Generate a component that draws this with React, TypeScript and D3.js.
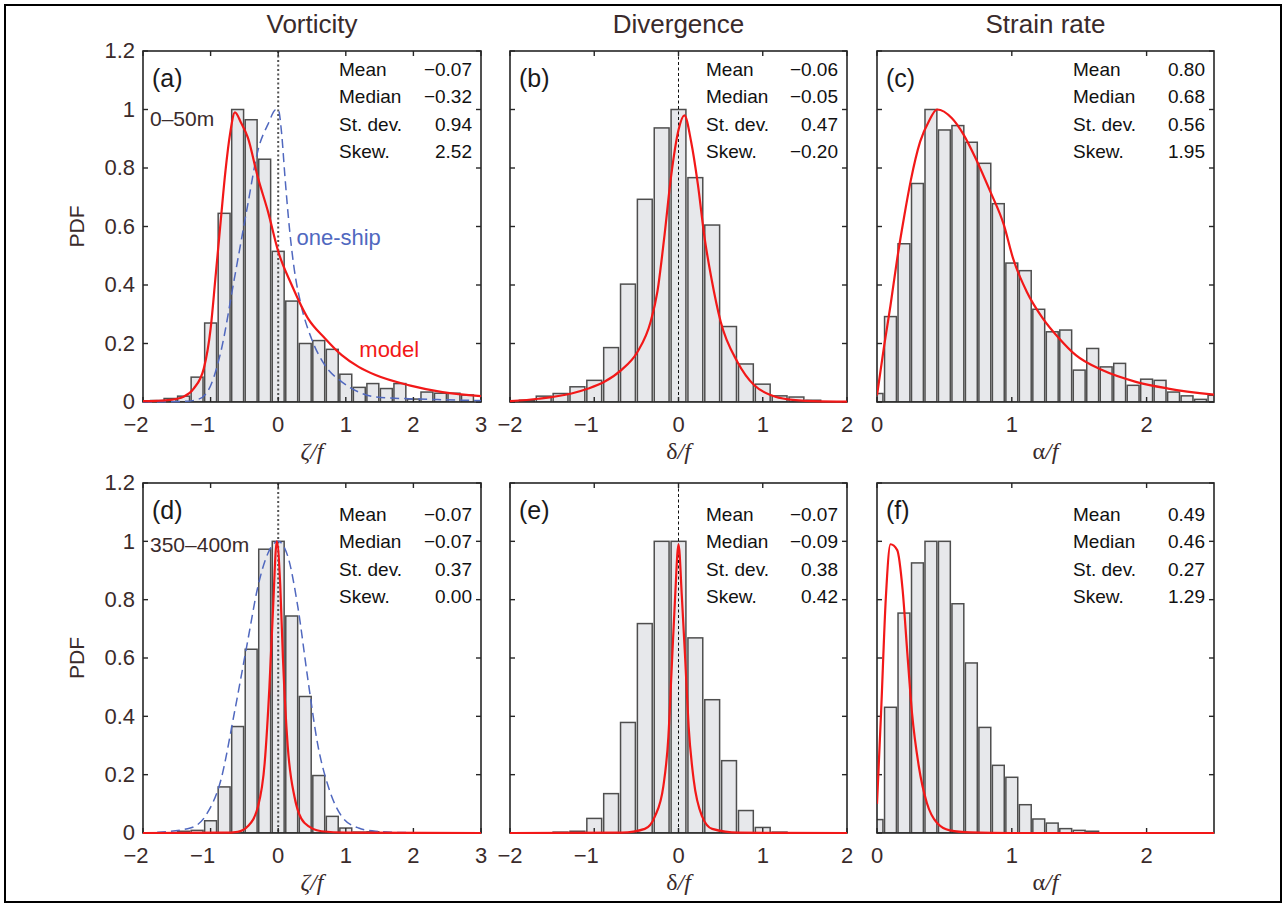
import React from 'react';
import * as d3 from 'd3';

// ---------- data ----------
const columnTitles = ['Vorticity', 'Divergence', 'Strain rate'];
const statLabels = ['Mean', 'Median', 'St. dev.', 'Skew.'];
const yTicks = [0, 0.2, 0.4, 0.6, 0.8, 1, 1.2];
const yTickLabels = ['0', '0.2', '0.4', '0.6', '0.8', '1', '1.2'];
const xTicksVort = [-2, -1, 0, 1, 2, 3];
const xTicksDiv = [-2, -1, 0, 1, 2];
const xTicksStrain = [0, 1, 2];

// (a) vorticity 0-50 m
const aBins = [-1.8, -1.6, -1.4, -1.2, -1.0, -0.8, -0.6, -0.4, -0.2, 0, 0.2, 0.4, 0.6, 0.8, 1.0, 1.2, 1.4, 1.6, 1.8, 2.0, 2.2, 2.4, 2.6, 2.8];
const aPdf = [0.005, 0.012, 0.02, 0.085, 0.27, 0.645, 1.0, 0.965, 0.83, 0.515, 0.345, 0.2, 0.21, 0.18, 0.095, 0.05, 0.063, 0.046, 0.063, 0.01, 0.034, 0.03, 0.03, 0.024];
const aModelX = [-2, -1.8, -1.6, -1.4, -1.25, -1.1, -1.0, -0.93, -0.85, -0.78, -0.71, -0.64, -0.55, -0.45, -0.3, -0.15, 0, 0.2, 0.44, 0.69, 0.94, 1.19, 1.44, 1.94, 2.43, 3.0];
const aModelY = [0.003, 0.004, 0.007, 0.018, 0.046, 0.115, 0.25, 0.42, 0.62, 0.79, 0.92, 0.99, 0.955, 0.905, 0.767, 0.65, 0.515, 0.4, 0.286, 0.218, 0.16, 0.12, 0.092, 0.057, 0.034, 0.02];
const aShipX = [-2, -1.4, -1.2, -1.05, -0.85, -0.65, -0.45, -0.3, -0.15, -0.03, 0, 0.05, 0.1, 0.17, 0.24, 0.34, 0.49, 0.69, 0.94, 1.19, 1.44, 1.94, 2.43, 3.0];
const aShipY = [0, 0.002, 0.008, 0.034, 0.17, 0.42, 0.675, 0.86, 0.95, 1.0, 1.0, 0.92, 0.77, 0.585, 0.45, 0.33, 0.218, 0.126, 0.069, 0.034, 0.017, 0.011, 0.008, 0.005];
const aStats = ['−0.07', '−0.32', '0.94', '2.52'];

// (b) divergence 0-50 m
const bBins = [-1.8, -1.6, -1.4, -1.2, -1.0, -0.8, -0.6, -0.4, -0.2, 0, 0.2, 0.4, 0.6, 0.8, 1.0, 1.2, 1.4, 1.6];
const bPdf = [0.006, 0.02, 0.029, 0.052, 0.074, 0.186, 0.403, 0.693, 0.937, 1.0, 0.767, 0.605, 0.258, 0.13, 0.061, 0.021, 0.017, 0.006];
const bModelX = [-2, -1.66, -1.27, -1.07, -0.88, -0.68, -0.49, -0.33, -0.25, -0.17, -0.09, 0, 0.07, 0.15, 0.23, 0.31, 0.39, 0.5, 0.7, 0.9, 1.1, 1.3, 1.6, 2.0];
const bModelY = [0.003, 0.011, 0.029, 0.046, 0.069, 0.109, 0.17, 0.275, 0.378, 0.56, 0.767, 0.93, 0.98, 0.89, 0.744, 0.56, 0.424, 0.275, 0.137, 0.057, 0.023, 0.009, 0.003, 0.001];
const bStats = ['−0.06', '−0.05', '0.47', '−0.20'];

// (c) strain rate 0-50 m
const cBins = [0, 0.1, 0.2, 0.3, 0.4, 0.5, 0.6, 0.7, 0.8, 0.9, 1.0, 1.1, 1.2, 1.3, 1.4, 1.5, 1.6, 1.7, 1.8, 1.9, 2.0, 2.1, 2.2, 2.3, 2.4, 2.5];
const cPdf = [0.029, 0.292, 0.541, 0.747, 1.0, 0.93, 0.945, 0.888, 0.816, 0.678, 0.475, 0.449, 0.317, 0.24, 0.246, 0.109, 0.183, 0.12, 0.132, 0.057, 0.078, 0.074, 0.034, 0.021, 0.009, 0.023];
const cModelX = [0, 0.054, 0.1, 0.15, 0.2, 0.25, 0.32, 0.385, 0.446, 0.556, 0.64, 0.74, 0.84, 0.94, 1.01, 1.11, 1.23, 1.35, 1.475, 1.67, 1.92, 2.16, 2.5];
const cModelY = [0.023, 0.195, 0.33, 0.49, 0.63, 0.756, 0.89, 0.96, 1.0, 0.97, 0.916, 0.825, 0.72, 0.607, 0.49, 0.378, 0.286, 0.218, 0.16, 0.109, 0.069, 0.046, 0.025];
const cStats = ['0.80', '0.68', '0.56', '1.95'];

// (d) vorticity 350-400 m
const dBins = [-1.4, -1.2, -1.0, -0.8, -0.6, -0.4, -0.2, 0, 0.2, 0.4, 0.6, 0.8, 1.0, 1.2, 1.4];
const dPdf = [0.006, 0.009, 0.042, 0.158, 0.365, 0.63, 0.973, 1.0, 0.744, 0.468, 0.197, 0.057, 0.017, 0.003, 0.004];
const dModelX = [-2, -0.8, -0.6, -0.45, -0.3, -0.2, -0.13, -0.08, -0.02, 0.03, 0.07, 0.14, 0.24, 0.39, 0.64, 1.0, 3.0];
const dModelY = [0, 0.001, 0.004, 0.023, 0.09, 0.24, 0.5, 0.75, 1.0, 0.85, 0.6, 0.3, 0.125, 0.034, 0.006, 0.001, 0];
const dShipX = [-2, -1.8, -1.3, -1.05, -0.85, -0.65, -0.45, -0.3, -0.15, 0, 0.14, 0.29, 0.44, 0.59, 0.74, 0.94, 1.19, 1.44, 2, 3];
const dShipY = [0, 0.002, 0.017, 0.068, 0.18, 0.41, 0.66, 0.845, 0.96, 1.0, 0.95, 0.776, 0.525, 0.297, 0.16, 0.057, 0.017, 0.006, 0.001, 0];
const dStats = ['−0.07', '−0.07', '0.37', '0.00'];

// (e) divergence 350-400 m
const eBins = [-1.4, -1.2, -1.0, -0.8, -0.6, -0.4, -0.2, 0, 0.2, 0.4, 0.6, 0.8, 1.0, 1.2];
const ePdf = [0.003, 0.006, 0.05, 0.135, 0.379, 0.718, 1.0, 1.0, 0.669, 0.457, 0.248, 0.077, 0.019, 0.003];
const eModelX = [-2, -0.67, -0.4, -0.28, -0.18, -0.12, -0.08, -0.04, 0, 0.04, 0.08, 0.12, 0.18, 0.28, 0.4, 0.71, 2];
const eModelY = [0, 0.001, 0.014, 0.057, 0.16, 0.33, 0.57, 0.81, 0.99, 0.81, 0.594, 0.366, 0.183, 0.057, 0.014, 0.001, 0];
const eStats = ['−0.07', '−0.09', '0.38', '0.42'];

// (f) strain rate 350-400 m
const fBins = [0, 0.1, 0.2, 0.3, 0.4, 0.5, 0.6, 0.7, 0.8, 0.9, 1.0, 1.1, 1.2, 1.3, 1.4, 1.5, 1.6];
const fPdf = [0.046, 0.431, 0.754, 0.926, 1.0, 1.0, 0.786, 0.583, 0.362, 0.232, 0.191, 0.097, 0.048, 0.034, 0.015, 0.009, 0.006];
const fModelX = [0, 0.03, 0.066, 0.1, 0.15, 0.19, 0.225, 0.26, 0.31, 0.37, 0.446, 0.54, 0.69, 1.0, 2.5];
const fModelY = [0.1, 0.41, 0.81, 0.99, 0.97, 0.834, 0.617, 0.41, 0.229, 0.103, 0.034, 0.009, 0.002, 0, 0];
const fStats = ['0.49', '0.46', '0.27', '1.29'];

// ---------- layout ----------
const W = 1286;
const H = 907;
const cols = [
  { left: 143, right: 481, domain: [-2, 3], ticks: xTicksVort, greek: 'ζ', greekItalic: true, binW: 0.2, firstShift: 7 },
  { left: 510, right: 847, domain: [-2, 2], ticks: xTicksDiv, greek: 'δ', greekItalic: false, binW: 0.2, firstShift: 0 },
  { left: 877, right: 1214, domain: [0, 2.5], ticks: xTicksStrain, greek: 'α', greekItalic: false, binW: 0.1, firstShift: 0 },
];
const rows = [
  { top: 51, bottom: 402, statTop: 25, depth: '0–50m', depthY: 75 },
  { top: 483, bottom: 833, statTop: 38, depth: '350–400m', depthY: 69 },
];

type PanelDef = {
  letter: string; col: number; row: number;
  bins: number[]; pdf: number[];
  modelX: number[]; modelY: number[];
  shipX?: number[]; shipY?: number[];
  stats: string[]; zero: 'dot' | 'dash' | null;
};

const panels: PanelDef[] = [
  { letter: '(a)', col: 0, row: 0, bins: aBins, pdf: aPdf, modelX: aModelX, modelY: aModelY, shipX: aShipX, shipY: aShipY, stats: aStats, zero: 'dot' },
  { letter: '(b)', col: 1, row: 0, bins: bBins, pdf: bPdf, modelX: bModelX, modelY: bModelY, stats: bStats, zero: 'dash' },
  { letter: '(c)', col: 2, row: 0, bins: cBins, pdf: cPdf, modelX: cModelX, modelY: cModelY, stats: cStats, zero: null },
  { letter: '(d)', col: 0, row: 1, bins: dBins, pdf: dPdf, modelX: dModelX, modelY: dModelY, shipX: dShipX, shipY: dShipY, stats: dStats, zero: 'dot' },
  { letter: '(e)', col: 1, row: 1, bins: eBins, pdf: ePdf, modelX: eModelX, modelY: eModelY, stats: eStats, zero: 'dash' },
  { letter: '(f)', col: 2, row: 1, bins: fBins, pdf: fPdf, modelX: fModelX, modelY: fModelY, stats: fStats, zero: null },
];

const SANS = '"Liberation Sans", Arial, Helvetica, sans-serif';
const SERIF = '"Liberation Serif", "Times New Roman", serif';
const LABEL_COLOR = '#3a2b2b';
const RED = '#f21818';
const BLUE = '#5068bf';
const TICK_FONT = 22;

function Panel({ p, idx }: { p: PanelDef; idx: number }) {
  const col = cols[p.col];
  const row = rows[p.row];
  const x = d3.scaleLinear().domain(col.domain).range([col.left, col.right]);
  const y = d3.scaleLinear().domain([0, 1.2]).range([row.bottom, row.top]);
  const bw = (x(col.binW) - x(0)) * 0.88;
  const line = d3.line<[number, number]>().x(d => x(d[0])).y(d => y(d[1])).curve(d3.curveMonotoneX);
  const model = p.modelX.map((v, i) => [v, p.modelY[i]] as [number, number]);
  const ship = p.shipX ? p.shipX.map((v, i) => [v, p.shipY![i]] as [number, number]) : null;
  const clipBars = `clipb${idx}`;
  const clipLines = `clipl${idx}`;
  const tickLen = 5;

  return (
    <g>
      <defs>
        <clipPath id={clipBars}>
          <rect x={col.left} y={row.top} width={col.right - col.left} height={row.bottom - row.top} />
        </clipPath>
        <clipPath id={clipLines}>
          <rect x={col.left} y={row.top - 2} width={col.right - col.left} height={row.bottom - row.top + 3} />
        </clipPath>
      </defs>
      {/* bars */}
      <g clipPath={`url(#${clipBars})`}>
        {p.bins.map((c, i) => (
          <rect key={i} x={x(c) - bw / 2} y={y(p.pdf[i])} width={bw} height={y(0) - y(p.pdf[i])}
            fill="#e7e8eb" stroke="#4e4e4e" strokeWidth={1.5} />
        ))}
      </g>
      {/* zero line */}
      {p.zero === 'dot' && (
        <line x1={x(0)} x2={x(0)} y1={row.top} y2={row.bottom} stroke="#555" strokeWidth={2} strokeDasharray="2,2.5" />
      )}
      {p.zero === 'dash' && (
        <line x1={x(0)} x2={x(0)} y1={row.top} y2={row.bottom} stroke="#111" strokeWidth={1} strokeDasharray="3,2.5" />
      )}
      {/* box */}
      <rect x={col.left} y={row.top} width={col.right - col.left} height={row.bottom - row.top}
        fill="none" stroke="#262626" strokeWidth={1.6} />
      {/* y ticks */}
      {yTicks.map((t, i) => (
        <g key={'y' + i}>
          <line x1={col.left} x2={col.left + tickLen} y1={y(t)} y2={y(t)} stroke="#262626" strokeWidth={1.4} />
          <line x1={col.right} x2={col.right - tickLen} y1={y(t)} y2={y(t)} stroke="#262626" strokeWidth={1.4} />
        </g>
      ))}
      {/* x ticks */}
      {col.ticks.map((t, i) => (
        <g key={'x' + i}>
          <line x1={x(t)} x2={x(t)} y1={row.bottom} y2={row.bottom - tickLen} stroke="#262626" strokeWidth={1.4} />
          <line x1={x(t)} x2={x(t)} y1={row.top} y2={row.top + tickLen} stroke="#262626" strokeWidth={1.4} />
        </g>
      ))}
      {/* curves */}
      <g clipPath={`url(#${clipLines})`}>
        {ship && (
          <path d={line(ship) || ''} fill="none" stroke={BLUE} strokeWidth={1.5} strokeDasharray="9,5" />
        )}
        <path d={line(model) || ''} fill="none" stroke={RED} strokeWidth={2.2} />
      </g>
      {/* x tick labels */}
      {col.ticks.map((t, i) => {
        const shift = t < 0 ? (i === 0 ? col.firstShift : 8) : 0;
        return (
          <text key={'xl' + i} x={x(t) - shift} y={row.bottom + 30} textAnchor="middle"
            fontFamily={SANS} fontSize={TICK_FONT} fill={LABEL_COLOR}>{t < 0 ? '−' + Math.abs(t) : String(t)}</text>
        );
      })}
      {/* x axis label */}
      <text x={(col.left + col.right) / 2} y={row.bottom + 57} textAnchor="middle" fontFamily={SERIF} fontSize={24} fill={LABEL_COLOR}>
        <tspan fontStyle={col.greekItalic ? 'italic' : 'normal'}>{col.greek}</tspan>
        <tspan fontStyle="italic">/f</tspan>
      </text>
      {/* y tick labels on left column */}
      {p.col === 0 && yTicks.map((t, i) => (
        <text key={'yl' + i} x={col.left - 8} y={y(t)} dy="0.34em" textAnchor="end"
          fontFamily={SANS} fontSize={TICK_FONT} fill={LABEL_COLOR}>{yTickLabels[i]}</text>
      ))}
      {p.col === 0 && (
        <text transform={`translate(${84},${(row.top + row.bottom) / 2}) rotate(-90)`} textAnchor="middle"
          fontFamily={SANS} fontSize={21} fill={LABEL_COLOR}>PDF</text>
      )}
      {/* panel letter */}
      <text x={col.left + 9} y={row.top + 36} fontFamily={SANS} fontSize={25} fill="#1a1a1a">{p.letter}</text>
      {p.col === 0 && (
        <text x={col.left + 7} y={row.top + row.depthY} fontFamily={SANS} fontSize={21} fill={LABEL_COLOR}>{row.depth}</text>
      )}
      {/* stats */}
      {statLabels.map((s, i) => (
        <g key={'s' + i}>
          <text x={col.left + 196} y={row.top + row.statTop + i * 27.4} fontFamily={SANS} fontSize={19} fill="#111">{s}</text>
          <text x={col.right - 9} y={row.top + row.statTop + i * 27.4} textAnchor="end" fontFamily={SANS} fontSize={19} fill="#111">{p.stats[i]}</text>
        </g>
      ))}
      {/* curve labels in (a) */}
      {p.letter === '(a)' && (
        <>
          <text x={x(0.27)} y={y(0.537)} fontFamily={SANS} fontSize={22} fill={BLUE}>one-ship</text>
          <text x={x(1.2)} y={y(0.153)} fontFamily={SANS} fontSize={22} fill={RED}>model</text>
        </>
      )}
    </g>
  );
}

export default function App() {
  return (
    <svg width={W} height={H} viewBox={`0 0 ${W} ${H}`}
      style={{ position: 'absolute', left: 0, top: 0, background: '#fff' }}>
      <rect x={0} y={0} width={W} height={H} fill="#fff" />
      <rect x={5} y={5} width={1276} height={897} fill="none" stroke="#000" strokeWidth={2} />
      {columnTitles.map((t, i) => (
        <text key={t} x={(cols[i].left + cols[i].right) / 2} y={33} textAnchor="middle"
          fontFamily={SANS} fontSize={26} fill={LABEL_COLOR}>{t}</text>
      ))}
      {panels.map((p, i) => <Panel key={p.letter} p={p} idx={i} />)}
    </svg>
  );
}
